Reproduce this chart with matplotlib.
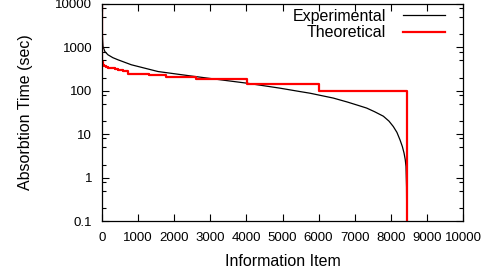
import matplotlib
matplotlib.use("Agg")
import matplotlib.pyplot as plt
from matplotlib.ticker import LogLocator, NullFormatter

plt.rcParams['font.family'] = ['Liberation Sans', 'DejaVu Sans']

# Experimental curve (information item index vs absorption time)
exp_x = [0, 4, 10, 18, 28, 80, 166, 300, 443, 812, 1551, 2438, 3546, 4008,
         4930, 5485, 5762, 6000, 6407, 6800, 7100, 7331, 7550, 7793, 7950,
         8070, 8170, 8255, 8320, 8366, 8400, 8421, 8436, 8442]
exp_y = [10000, 3500, 2000, 1400, 1050, 800, 675, 580, 518, 398, 278, 221,
         168, 150, 115, 96, 88, 80, 68, 55, 46, 40, 33, 26, 20,
         15, 11, 7.4, 5.2, 3.7, 2.6, 1.8, 0.6, 0.1]

# Theoretical step function: step starts and levels
theo_x = [0, 2, 20, 50, 100, 170, 260, 350, 450, 580, 730, 1310, 1760, 2610,
          4008, 6011, 8445]
theo_y = [20000, 473, 400, 372, 355, 340, 330, 315, 300, 282, 246, 228, 205,
          183, 147, 100, 0.01]

xticks = [0, 1000, 2000, 3000, 4000, 5000, 6000, 7000, 8000, 9000, 10000]
yticks = [0.1, 1, 10, 100, 1000, 10000]
ytick_labels = ['0.1', '1', '10', '100', '1000', '10000']

fig = plt.figure(figsize=(4.93, 2.76), dpi=100)
ax = fig.add_axes([102/493, 1-221/276, 361/493, 217/276])

ax.plot(exp_x, exp_y, color='black', lw=0.9, label='Experimental')
ax.step(theo_x, theo_y, where='post', color='#ff0000', lw=1.6, label='Theoretical')

ax.set_yscale('log')
ax.set_xlim(0, 10000)
ax.set_ylim(0.1, 10000)
ax.set_xticks(xticks)
ax.set_xticklabels([str(t) for t in xticks])
ax.set_yticks(yticks)
ax.set_yticklabels(ytick_labels)
ax.yaxis.set_minor_locator(LogLocator(base=10, subs=[2, 5, 8]))
ax.yaxis.set_minor_formatter(NullFormatter())

ax.tick_params(which='both', direction='in', top=True, right=True,
               labelsize=9.5, colors='black')
ax.tick_params(axis='x', pad=8)
ax.tick_params(axis='y', pad=7)
ax.tick_params(which='major', length=5, width=0.8)
ax.tick_params(which='minor', length=3, width=0.8)
for s in ax.spines.values():
    s.set_linewidth(0.9)

ax.set_xlabel('Information Item', fontsize=11.5, labelpad=7)
ax.set_ylabel('Absorbtion Time (sec)', fontsize=11.5, labelpad=16)

leg = ax.legend(loc='upper right', frameon=False, markerfirst=False,
                fontsize=11.5, handlelength=2.6, handletextpad=1.1,
                borderaxespad=0, borderpad=0, labelspacing=0.1,
                bbox_to_anchor=(0.950, 0.978))

fig.savefig('out.png', dpi=100)
